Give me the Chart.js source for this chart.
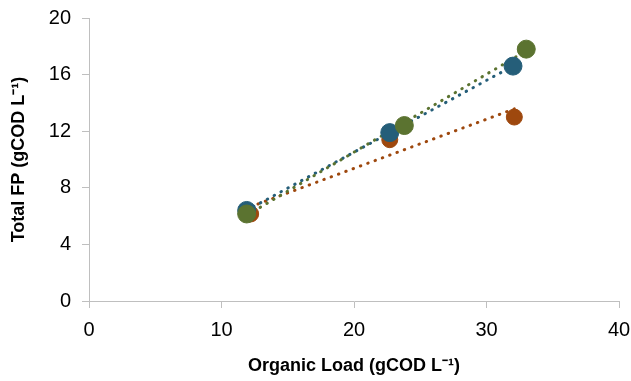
<!DOCTYPE html>
<html>
<head>
<meta charset="utf-8">
<script src="https://cdn.jsdelivr.net/npm/chart.js@4"></script>
<style>
  body { margin: 0; background: #fff; }
  #wrap { width: 631px; height: 381px; }
</style>
</head>
<body>
<div id="wrap"><canvas id="fpChart" width="631" height="381"></canvas></div>
<script>
// Organic load (x) and total FP (y) for each series
const seriesNames = ['Series A', 'Series B', 'Series C'];
const orangeX = [12.2, 22.7, 32.1];
const orangeY = [6.15, 11.4, 13.0];
const blueX = [11.9, 22.7, 32.0];
const blueY = [6.4, 11.9, 16.6];
const greenX = [11.9, 23.8, 33.0];
const greenY = [6.15, 12.4, 17.8];
const xTicks = [0, 10, 20, 30, 40];
const yTicks = [0, 4, 8, 12, 16, 20];

const colors = ['#9e480e', '#255e79', '#5b7330'];
const radii = [8, 9, 9];

function toPoints(xs, ys) {
    return xs.map((x, i) => ({ x: x, y: ys[i] }));
}

// Least squares trend line between first and last x
function trend(xs, ys) {
    const n = xs.length;
    const mx = xs.reduce((a, b) => a + b, 0) / n;
    const my = ys.reduce((a, b) => a + b, 0) / n;
    let sxy = 0, sxx = 0;
    for (let i = 0; i < n; i++) {
        sxy += (xs[i] - mx) * (ys[i] - my);
        sxx += (xs[i] - mx) * (xs[i] - mx);
    }
    const slope = sxy / sxx;
    const x0 = Math.min(...xs), x1 = Math.max(...xs);
    return [
        { x: x0, y: my + slope * (x0 - mx) },
        { x: x1, y: my + slope * (x1 - mx) }
    ];
}

const allX = [orangeX, blueX, greenX];
const allY = [orangeY, blueY, greenY];

const datasets = [];
allX.forEach((xs, i) => {
    datasets.push({
        label: seriesNames[i] + ' trend',
        type: 'line',
        data: trend(xs, allY[i]),
        borderColor: colors[i],
        borderWidth: 3,
        borderDash: [0.5, 7.3],
        borderCapStyle: 'round',
        pointRadius: 0,
        fill: false,
        order: 10 - i
    });
});
allX.forEach((xs, i) => {
    datasets.push({
        label: seriesNames[i],
        data: toPoints(xs, allY[i]),
        backgroundColor: colors[i],
        borderColor: colors[i],
        pointRadius: radii[i],
        pointHoverRadius: radii[i],
        order: 3 - i
    });
});

const tickFont = { family: 'Liberation Sans, Arial, sans-serif', size: 20 };
const titleFont = { family: 'Liberation Sans, Arial, sans-serif', size: 18, weight: 'bold' };

new Chart(document.getElementById('fpChart'), {
    type: 'scatter',
    data: { datasets: datasets },
    options: {
        responsive: false,
        animation: false,
        layout: { padding: { left: 0, right: 12, top: 18, bottom: 0 } },
        plugins: { legend: { display: false }, tooltip: { enabled: false } },
        scales: {
            x: {
                min: 0, max: 40,
                afterBuildTicks: axis => { axis.ticks = xTicks.map(v => ({ value: v })); },
                grid: { drawOnChartArea: false, drawTicks: true, tickLength: 7, color: '#bfbfbf' },
                border: { color: '#bfbfbf', width: 1 },
                ticks: { font: tickFont, color: '#000', padding: 10, maxRotation: 0 },
                title: { display: true, text: 'Organic Load (gCOD L⁻¹)', font: titleFont, color: '#000', padding: { top: 4, bottom: 4 } },
                afterFit: axis => {
                    axis.height = 80;
                    axis.paddingLeft = 0;
                    axis.paddingRight = 0;
                }
            },
            y: {
                min: 0, max: 20,
                afterBuildTicks: axis => { axis.ticks = yTicks.map(v => ({ value: v })); },
                grid: { drawOnChartArea: false, drawTicks: true, tickLength: 7, color: '#bfbfbf' },
                border: { color: '#bfbfbf', width: 1 },
                ticks: { font: tickFont, color: '#000', padding: 11 },
                title: { display: true, text: 'Total FP (gCOD L⁻¹)', font: titleFont, color: '#000', padding: { top: 8, bottom: 4 } },
                afterFit: axis => {
                    axis.width = 89;
                    axis.paddingTop = 0;
                    axis.paddingBottom = 0;
                }
            }
        }
    }
});
</script>
</body>
</html>
